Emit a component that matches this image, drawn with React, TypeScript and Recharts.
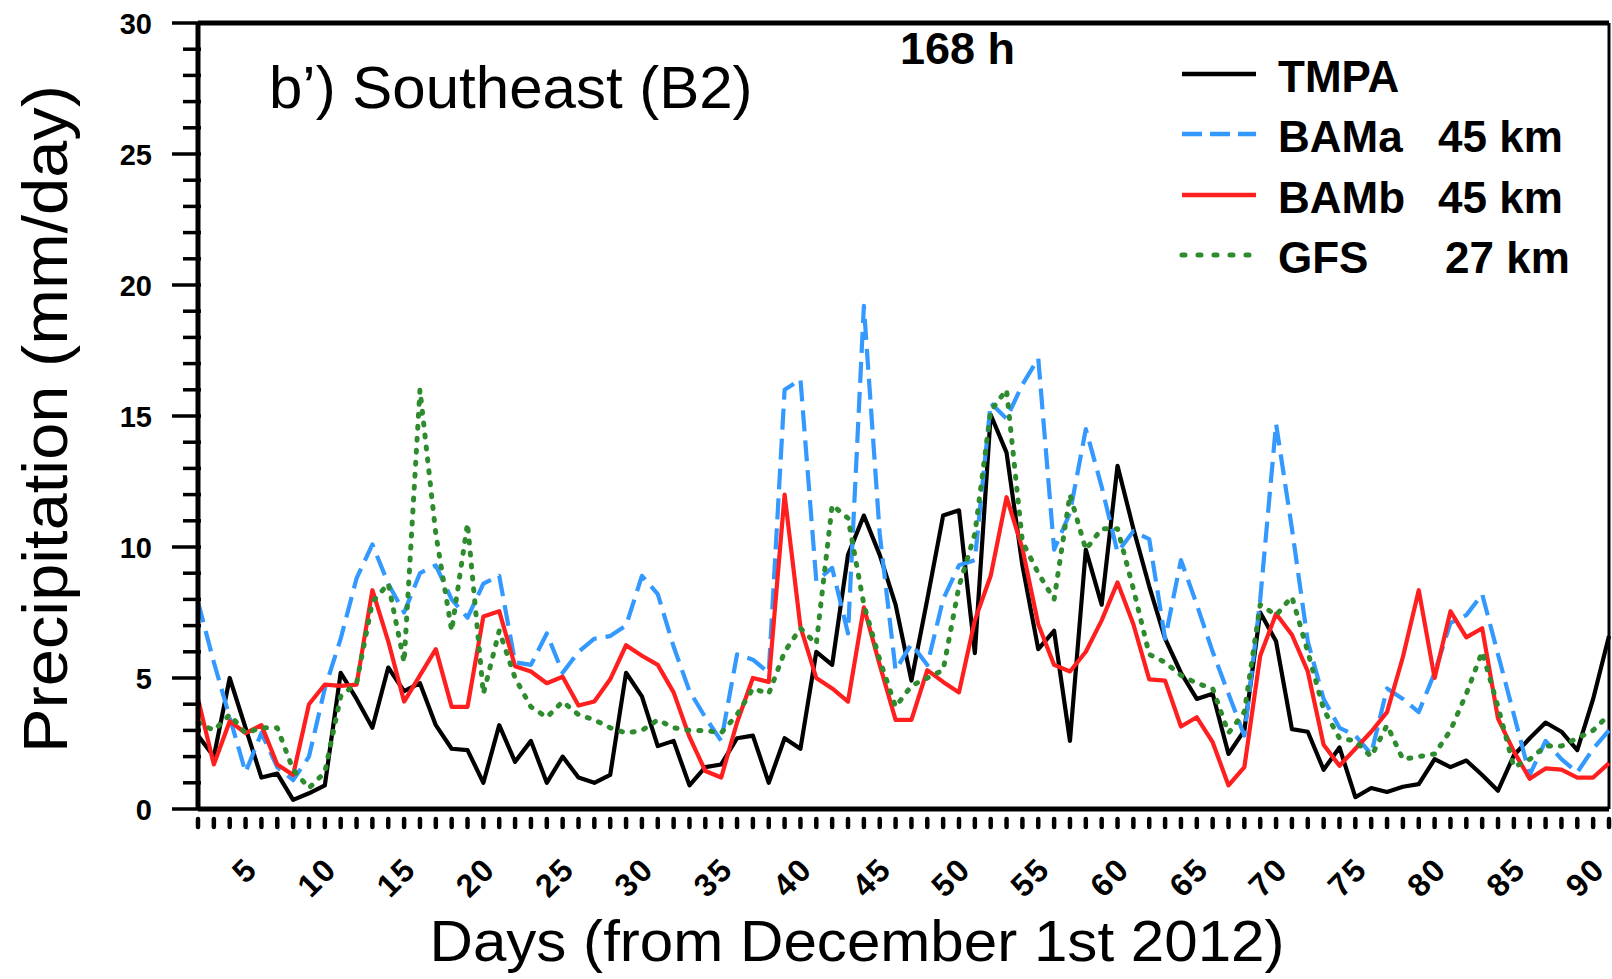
import { Line, LineChart, ReferenceLine, XAxis, YAxis } from "recharts";

// days since December 1st 2012
const DAYS = Array.from({ length: 90 }, (_, i) => i + 1);
const X_LABELS = [5, 10, 15, 20, 25, 30, 35, 40, 45, 50, 55, 60, 65, 70, 75, 80, 85, 90];
const Y_TICKS = Array.from({ length: 31 }, (_, i) => i);

const TMPA = [
  2.8, 2.0, 5.0, 3.1, 1.2, 1.35, 0.35, 0.6, 0.9, 5.2,
  4.2, 3.1, 5.4, 4.5, 4.8, 3.2, 2.3, 2.25, 1.0, 3.2,
  1.8, 2.6, 1.0, 2.0, 1.2, 1.0, 1.3, 5.2, 4.3, 2.4,
  2.6, 0.9, 1.6, 1.7, 2.7, 2.8, 1.0, 2.7, 2.3, 6.0,
  5.5, 9.7, 11.2, 9.7, 7.8, 4.9, 8.0, 11.2, 11.4, 5.95,
  15.05, 13.6, 9.3, 6.1, 6.8, 2.6, 9.9, 7.8, 13.1, 10.7,
  8.5, 6.5, 5.2, 4.2, 4.4, 2.1, 3.0, 7.5, 6.4, 3.05,
  2.95, 1.5, 2.35, 0.45, 0.8, 0.65, 0.85, 0.95, 1.9, 1.6,
  1.85, 1.3, 0.7, 2.05, 2.7, 3.3, 2.95, 2.25, 4.2, 6.6,
];

const BAMA = [
  7.9, 5.6, 3.5, 1.4, 2.9, 1.6, 1.1, 2.0, 4.6, 6.5,
  8.8, 10.1, 8.6, 7.5, 9.0, 9.3, 8.0, 7.3, 8.6, 8.9,
  5.6, 5.5, 6.7, 5.2, 6.0, 6.5, 6.6, 7.0, 8.9, 8.2,
  6.2, 4.5, 3.5, 2.6, 5.9, 5.7, 5.2, 16.0, 16.4, 8.7,
  9.2, 6.7, 19.2, 10.5, 5.3, 6.3, 5.5, 8.0, 9.3, 9.5,
  15.5, 14.9, 16.2, 17.2, 9.9, 11.3, 14.5, 12.3, 9.8, 10.6,
  10.3, 6.5, 9.5, 7.8, 6.0, 4.4, 2.8, 8.0, 14.7, 10.7,
  6.4, 4.2, 3.1, 2.8, 2.1, 4.6, 4.2, 3.7, 5.2, 7.1,
  7.4, 8.2, 5.9, 3.6, 1.3, 2.6, 1.9, 1.4, 2.3, 3.0,
];

const BAMB = [
  4.2, 1.7, 3.35, 2.9, 3.2, 1.7, 1.3, 4.0, 4.75, 4.7,
  4.75, 8.35, 6.4, 4.1, 5.1, 6.1, 3.9, 3.9, 7.35, 7.55,
  5.45, 5.25, 4.8, 5.05, 3.95, 4.1, 4.95, 6.25, 5.85, 5.5,
  4.45, 2.75, 1.45, 1.2, 3.3, 5.0, 4.85, 12.0, 6.95, 5.0,
  4.6, 4.1, 7.7, 5.5, 3.4, 3.4, 5.3, 4.85, 4.45, 7.2,
  8.9, 11.9, 9.95, 7.05, 5.5, 5.25, 6.0, 7.2, 8.65, 7.05,
  4.95, 4.9, 3.15, 3.5, 2.55, 0.9, 1.6, 5.85, 7.45, 6.65,
  5.25, 2.45, 1.65, 2.3, 2.95, 3.7, 5.8, 8.35, 5.0, 7.55,
  6.55, 6.9, 3.45, 2.2, 1.15, 1.55, 1.5, 1.2, 1.2, 1.75,
];

const GFS = [
  3.3, 3.0, 3.6, 2.9, 3.1, 3.1, 1.5, 0.8, 1.4, 4.3,
  4.8, 7.9, 8.6, 5.6, 16.0, 10.5, 6.8, 10.9, 4.4, 6.8,
  5.0, 3.9, 3.5, 4.1, 3.6, 3.4, 3.1, 2.9, 3.0, 3.4,
  3.1, 3.0, 3.0, 2.9, 3.6, 4.6, 4.4, 6.0, 6.9, 6.3,
  11.6, 11.1, 7.8, 5.7, 3.9, 4.7, 5.0, 5.3, 8.5, 10.5,
  15.2, 16.0, 10.2, 9.0, 8.0, 12.0, 9.9, 10.7, 10.7, 8.4,
  5.9, 5.6, 5.1, 4.8, 4.6, 2.9, 3.7, 7.8, 7.4, 8.1,
  6.0, 3.8, 2.7, 2.6, 2.0, 3.2, 1.9, 2.0, 2.1, 3.0,
  4.4, 6.0, 3.9, 1.6, 1.9, 2.4, 2.4, 2.7, 3.0, 3.6,
];

const rows = DAYS.map((day, i) => ({
  day,
  tmpa: TMPA[i],
  bama: BAMA[i],
  bamb: BAMB[i],
  gfs: GFS[i],
}));

const FONT = '"Liberation Sans", Arial, Helvetica, sans-serif';
const BLUE = "#3399ff";
const RED = "#ff1f1f";
const GREEN = "#2e8b2e";

function XTick(props: any) {
  const { x, y, payload } = props;
  const d = payload.value;
  const lx = x - 2;
  const ly = y + 62;
  return (
    <g>
      <line x1={x} x2={x} y1={y + 10} y2={y + 18} stroke="#000" strokeWidth={4.5} strokeLinecap="round" />
      {X_LABELS.includes(d) && (
        <text
          x={lx}
          y={ly}
          transform={`rotate(-45 ${lx} ${ly})`}
          textAnchor="end"
          fontFamily={FONT}
          fontWeight="bold"
          fontSize={32}
          letterSpacing={2}
          fill="#000"
        >
          {d}
        </text>
      )}
    </g>
  );
}

function YTick(props: any) {
  const { x, y, payload } = props;
  const v = payload.value;
  const major = v % 5 === 0;
  return (
    <g>
      <line x1={x - (major ? 26 : 15)} x2={x + 3} y1={y} y2={y} stroke="#000" strokeWidth={3.5} />
      {major && (
        <text
          x={x - 46}
          y={y + 10.5}
          textAnchor="end"
          fontFamily={FONT}
          fontWeight="bold"
          fontSize={29}
          fill="#000"
        >
          {v}
        </text>
      )}
    </g>
  );
}

const legendItems = [
  { name: "TMPA", res: "", color: "#000", dash: undefined as string | undefined, cap: "butt", y: 74, resX: 0 },
  { name: "BAMa", res: "45 km", color: BLUE, dash: "20 8", cap: "butt", y: 134, resX: 1438 },
  { name: "BAMb", res: "45 km", color: RED, dash: undefined, cap: "butt", y: 195, resX: 1438 },
  { name: "GFS", res: "27 km", color: GREEN, dash: "3 13", cap: "round", y: 255, resX: 1445 },
];

function Overlay() {
  return (
    <svg
      width={1612}
      height={979}
      style={{ position: "absolute", left: 0, top: 0, pointerEvents: "none" }}
    >
      <text x={269} y={108} fontFamily={FONT} fontSize={60} fill="#000">
        b’) Southeast (B2)
      </text>
      <text x={900} y={64} fontFamily={FONT} fontWeight="bold" fontSize={45} fill="#000">
        168 h
      </text>
      {legendItems.map((it) => (
        <g key={it.name}>
          <line
            x1={1182}
            x2={1256}
            y1={it.y}
            y2={it.y}
            stroke={it.color}
            strokeWidth={it.name === "GFS" ? 5 : 4.5}
            strokeDasharray={it.dash}
            strokeLinecap={it.cap as any}
          />
          <text x={1278} y={it.y + 18} fontFamily={FONT} fontWeight="bold" fontSize={44} fill="#000">
            {it.name}
          </text>
          {it.res && (
            <text x={it.resX} y={it.y + 18} fontFamily={FONT} fontWeight="bold" fontSize={44} fill="#000">
              {it.res}
            </text>
          )}
        </g>
      ))}
      <text
        x={67}
        y={419}
        transform="rotate(-90 67 419)"
        textAnchor="middle"
        fontFamily={FONT}
        fontSize={63}
        textLength={668}
        lengthAdjust="spacingAndGlyphs"
        fill="#000"
      >
        Precipitation (mm/day)
      </text>
      <text
        x={857}
        y={961}
        textAnchor="middle"
        fontFamily={FONT}
        fontSize={58}
        textLength={855}
        lengthAdjust="spacingAndGlyphs"
        fill="#000"
      >
        Days (from December 1st 2012)
      </text>
    </svg>
  );
}

export default function App() {
  return (
    <div style={{ position: "relative", width: 1612, height: 979, background: "#fff" }}>
      <style>{"body{margin:0;background:#fff}"}</style>
      <LineChart
        width={1612}
        height={979}
        data={rows}
        margin={{ top: 23, right: 3, bottom: 0, left: 0 }}
      >
        <XAxis
          dataKey="day"
          type="number"
          domain={[1, 90]}
          ticks={DAYS}
          interval={0}
          height={170}
          tickSize={0}
          tickMargin={0}
          tickLine={false}
          axisLine={{ stroke: "#000", strokeWidth: 5 }}
          tick={(p: any) => <XTick {...p} />}
        />
        <YAxis
          type="number"
          domain={[0, 30]}
          ticks={Y_TICKS}
          interval={0}
          width={198}
          tickSize={0}
          tickMargin={0}
          tickLine={false}
          axisLine={{ stroke: "#000", strokeWidth: 5 }}
          tick={(p: any) => <YTick {...p} />}
        />
        {/* frame: top and right edges of the plot */}
        <ReferenceLine y={30} stroke="#000" strokeWidth={5} />
        <ReferenceLine x={90} stroke="#000" strokeWidth={3} />
        <Line
          dataKey="tmpa"
          type="linear"
          stroke="#000"
          strokeWidth={4.2}
          strokeLinejoin="round"
          dot={false}
          activeDot={false}
          isAnimationActive={false}
        />
        <Line
          dataKey="bama"
          type="linear"
          stroke={BLUE}
          strokeWidth={4.2}
          strokeDasharray="21 9"
          strokeLinejoin="round"
          dot={false}
          activeDot={false}
          isAnimationActive={false}
        />
        <Line
          dataKey="bamb"
          type="linear"
          stroke={RED}
          strokeWidth={4.2}
          strokeLinejoin="round"
          dot={false}
          activeDot={false}
          isAnimationActive={false}
        />
        <Line
          dataKey="gfs"
          type="linear"
          stroke={GREEN}
          strokeWidth={5}
          strokeDasharray="2 10"
          strokeLinecap="round"
          strokeLinejoin="round"
          dot={false}
          activeDot={false}
          isAnimationActive={false}
        />
      </LineChart>
      <Overlay />
    </div>
  );
}
